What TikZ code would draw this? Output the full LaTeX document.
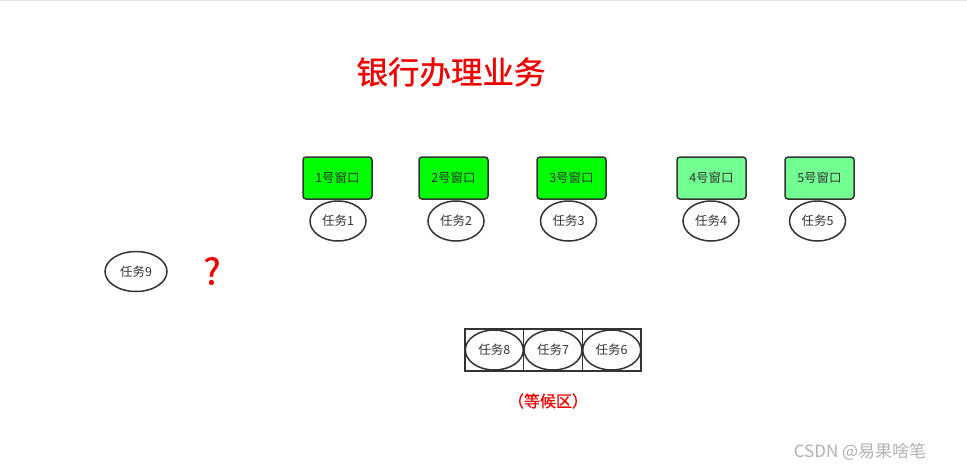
\documentclass[tikz,border=0pt]{standalone}
\usepackage{fontspec}
\setmainfont{Noto Sans CJK SC}
\newfontfamily\semibold[FakeBold=0.9]{Noto Sans CJK SC}
\usetikzlibrary{shapes.geometric}
\definecolor{brightgreen}{RGB}{0,255,0}
\definecolor{lightgreen}{RGB}{115,255,145}
\definecolor{edge}{RGB}{51,51,51}
\definecolor{redtxt}{RGB}{240,0,0}
\begin{document}
\begin{tikzpicture}[x=1pt,y=-1pt,
  window/.style={draw=edge,line width=1.5pt,rounded corners=3pt,minimum width=69pt,minimum height=42pt,inner sep=0pt,font=\fontsize{12.5}{14}\selectfont,text=edge},
  task/.style={ellipse,draw=edge,line width=1.5pt,minimum width=56pt,minimum height=40pt,inner sep=0pt,font=\fontsize{12.5}{14}\selectfont,text=edge},
  slot/.style={draw=edge,line width=1.5pt,minimum width=58.7pt,minimum height=42pt,inner sep=0pt},
  redtext/.style={text=redtxt,inner sep=0pt}]
\useasboundingbox (0,0) rectangle (967,471);
\fill[white] (0,0) rectangle (967,471);
\draw[gray!20,line width=1pt] (0,0.5) -- (967,0.5);
\node[redtext,font=\fontsize{31.5}{36}\semibold] (title) at (451,72) {银行办理业务};
\node[window,fill=brightgreen] (w1) at (337.5,178) {1号窗口};
\node[window,fill=brightgreen] (w2) at (453.5,178) {2号窗口};
\node[window,fill=brightgreen] (w3) at (571.5,178) {3号窗口};
\node[window,fill=lightgreen] (w4) at (711.5,178) {4号窗口};
\node[window,fill=lightgreen] (w5) at (819.5,178) {5号窗口};
\node[task] (t1) at (338,221) {任务1};
\node[task] (t2) at (456,221) {任务2};
\node[task] (t3) at (568.5,221) {任务3};
\node[task] (t4) at (711,221) {任务4};
\node[task] (t5) at (817.5,221) {任务5};
\node[task,minimum width=62pt] (t9) at (136,271.5) {任务9};
\node[redtext,font=\fontsize{36}{40}\semibold] (q) at (212,271) {?};
\node[slot] (s8) at (494.3,350) {};
\node[slot] (s7) at (553,350) {};
\node[slot] (s6) at (611.7,350) {};
\node[task,minimum width=58pt] (t8) at (s8) {任务8};
\node[task,minimum width=58pt] (t7) at (s7) {任务7};
\node[task,minimum width=58pt] (t6) at (s6) {任务6};
\node[redtext,font=\fontsize{16}{18}\semibold] (wait) at (548,401) {（等候区）};
\node[text=gray!60,inner sep=0pt,font=\fontsize{17}{20}\selectfont] (wm) at (860,452) {CSDN @易果啥笔};
\end{tikzpicture}
\end{document}
